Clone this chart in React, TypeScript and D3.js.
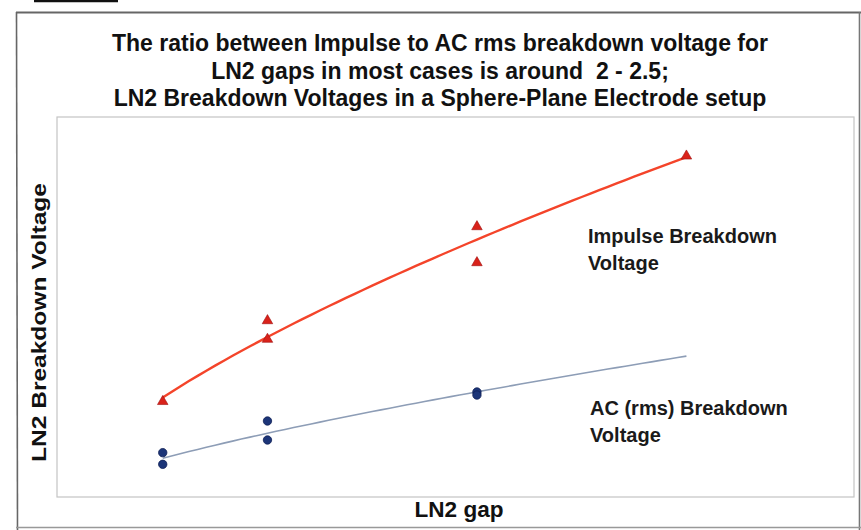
import React from "react";
import * as d3 from "d3";

const titleLines = [
  "The ratio between Impulse to AC rms breakdown voltage for",
  "LN2 gaps in most cases is around  2 - 2.5;",
  "LN2 Breakdown Voltages in a Sphere-Plane Electrode setup",
];

// LN2 gap (arbitrary units) and breakdown voltages (arbitrary units)
const impulseGap = [5, 10, 10, 20, 20, 30];
const impulseVoltage = [75.4, 139.2, 124.5, 213.4, 185.0, 269.2];
const acGap = [5, 5, 10, 10, 20, 20];
const acVoltage = [35.0, 25.8, 60.0, 45.0, 82.9, 80.5];
const fitRange = [5, 30];

const xTitle = "LN2 gap";
const yTitle = "LN2 Breakdown Voltage";
const impulseLabel = ["Impulse Breakdown", "Voltage"];
const acLabel = ["AC (rms) Breakdown", "Voltage"];

function powerFit(xs: number[], ys: number[]) {
  const lx = xs.map(Math.log);
  const ly = ys.map(Math.log);
  const mx = d3.mean(lx)!;
  const my = d3.mean(ly)!;
  let sxy = 0;
  let sxx = 0;
  lx.forEach((v, i) => {
    sxy += (v - mx) * (ly[i] - my);
    sxx += (v - mx) * (v - mx);
  });
  const b = sxy / sxx;
  const a = Math.exp(my - b * mx);
  return (x: number) => a * Math.pow(x, b);
}

const FONT = "'Liberation Sans', Arial, Helvetica, sans-serif";

export default function App() {
  const W = 861;
  const H = 530;
  const plot = { left: 57, right: 854, top: 117, bottom: 497 };
  const x = d3.scaleLinear().domain([0, 38]).range([58, plot.right]);
  const y = d3.scaleLinear().domain([0, 300]).range([plot.bottom, plot.top]);

  const impFit = powerFit(impulseGap, impulseVoltage);
  const acFit = powerFit(acGap, acVoltage);
  const samples = d3.range(0, 61).map((i) => fitRange[0] + ((fitRange[1] - fitRange[0]) * i) / 60);
  const line = d3
    .line<number>()
    .x((d) => x(d))
    .curve(d3.curveLinear);
  const impPath = line.y((d) => y(impFit(d)))(samples) || "";
  const acPath = line.y((d) => y(acFit(d)))(samples) || "";

  const tri = d3.symbol().type(d3.symbolTriangle).size(48)() || "";

  return (
    <svg
      width={W}
      height={H}
      style={{ position: "absolute", left: 0, top: 0, background: "#fff" }}
      fontFamily={FONT}
    >
      <rect x={0} y={0} width={W} height={H} fill="#fff" />
      {/* fragment at the top edge */}
      <line x1={34} x2={118} y1={1} y2={1} stroke="#111" strokeWidth={2.5} />
      {/* outer frame */}
      <line x1={16} x2={861} y1={12.5} y2={12.5} stroke="#666" strokeWidth={2} />
      <line x1={16.5} x2={17.5} y1={12} y2={530} stroke="#666" strokeWidth={1.6} />
      <line x1={859.5} x2={859.5} y1={12} y2={530} stroke="#777" strokeWidth={1.6} />
      <line x1={16} x2={861} y1={527.5} y2={527.5} stroke="#999" strokeWidth={1.5} />

      {/* plot area */}
      <rect
        x={plot.left}
        y={plot.top}
        width={plot.right - plot.left}
        height={plot.bottom - plot.top}
        fill="none"
        stroke="#c4c4c4"
        strokeWidth={1.2}
      />

      {/* title */}
      {titleLines.map((t, i) => (
        <text
          key={i}
          x={440}
          y={51 + i * 27.5}
          textAnchor="middle"
          fontSize={23}
          fontWeight="bold"
          fill="#111"
          style={{ whiteSpace: "pre" }}
        >
          {t}
        </text>
      ))}

      {/* fit lines */}
      <path d={acPath} fill="none" stroke="#8d9db6" strokeWidth={1.6} />
      <path d={impPath} fill="none" stroke="#f4442a" strokeWidth={2.4} />

      {/* markers */}
      {acGap.map((g, i) => (
        <circle
          key={"a" + i}
          cx={x(g)}
          cy={y(acVoltage[i])}
          r={4.2}
          fill="#1c3578"
          stroke="#0f1f55"
          strokeWidth={0.8}
        />
      ))}
      {impulseGap.map((g, i) => (
        <path
          key={"i" + i}
          d={tri}
          transform={`translate(${x(g)},${y(impulseVoltage[i])})`}
          fill="#d9221a"
          stroke="#a01010"
          strokeWidth={0.6}
        />
      ))}

      {/* series labels */}
      {impulseLabel.map((t, i) => (
        <text key={"il" + i} x={588} y={243 + i * 27} fontSize={20} fontWeight="bold" fill="#1a1a1a">
          {t}
        </text>
      ))}
      {acLabel.map((t, i) => (
        <text key={"al" + i} x={590} y={415 + i * 27} fontSize={20} fontWeight="bold" fill="#1a1a1a">
          {t}
        </text>
      ))}

      {/* axis titles */}
      <text
        x={459}
        y={517}
        textAnchor="middle"
        fontSize={22}
        fontWeight="bold"
        fill="#111"
        textLength={89}
        lengthAdjust="spacingAndGlyphs"
      >
        {xTitle}
      </text>
      <text
        transform={`translate(46,${(183 + 462) / 2}) rotate(-90)`}
        textAnchor="middle"
        fontSize={21}
        fontWeight="bold"
        fill="#111"
        textLength={279}
        lengthAdjust="spacingAndGlyphs"
      >
        {yTitle}
      </text>
    </svg>
  );
}
